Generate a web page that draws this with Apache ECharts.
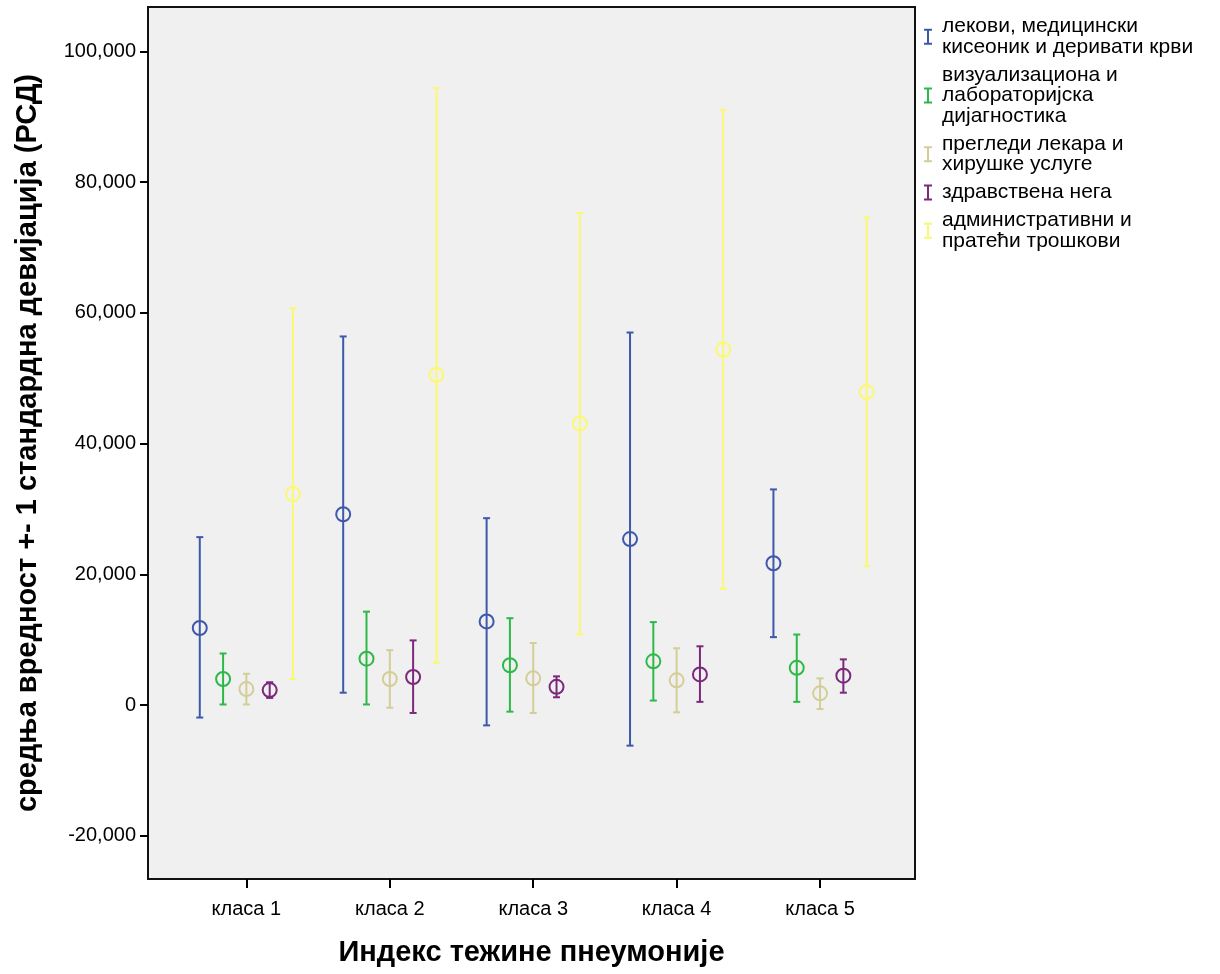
<!DOCTYPE html>
<html>
<head>
<meta charset="utf-8">
<title>Индекс тежине пнеумоније</title>
<script src="https://cdn.jsdelivr.net/npm/echarts@6/dist/echarts.min.js"></script>
<style>
  html, body {
    margin: 0;
    padding: 0;
    background: #fff;
  }

  #chart {
    width: 1220px;
    height: 974px;
  }
</style>
</head>
<body>
<div id="chart"></div>
<script>
// класе индекса тежине пнеумоније
let categories = ['класа 1', 'класа 2', 'класа 3', 'класа 4', 'класа 5']
let yTicks = [-20000, 0, 20000, 40000, 60000, 80000, 100000]

// средња вредност и +- 1 SD, по класи
let lekoviMean = [11800, 29200, 12800, 25400, 21700]
let lekoviLow = [-1900, 1900, -3100, -6200, 10400]
let lekoviHigh = [25700, 56400, 28600, 57000, 33000]

let dijagMean = [4000, 7100, 6100, 6700, 5700]
let dijagLow = [100, 100, -1000, 700, 500]
let dijagHigh = [7900, 14300, 13300, 12700, 10800]

let pregledMean = [2450, 4000, 4100, 3800, 1800]
let pregledLow = [100, -400, -1200, -1100, -600]
let pregledHigh = [4800, 8400, 9500, 8700, 4100]

let negaMean = [2300, 4300, 2800, 4700, 4500]
let negaLow = [1100, -1200, 1200, 500, 1900]
let negaHigh = [3500, 9900, 4400, 9000, 7000]

let adminMean = [32300, 50500, 43100, 54400, 47900]
let adminLow = [4000, 6500, 10800, 17800, 21300]
let adminHigh = [60700, 94400, 75300, 91100, 74600]

let seriesDefs = [
  { name: 'лекови, медицински\nкисеоник и деривати крви', color: '#3e58ac', mean: lekoviMean, low: lekoviLow, high: lekoviHigh },
  { name: 'визуализациона и\nлабораторијска\nдијагностика', color: '#2eb848', mean: dijagMean, low: dijagLow, high: dijagHigh },
  { name: 'прегледи лекара и\nхирушке услуге', color: '#d3ce97', mean: pregledMean, low: pregledLow, high: pregledHigh },
  { name: 'здравствена нега', color: '#7c287d', mean: negaMean, low: negaLow, high: negaHigh },
  { name: 'административни и\nпратећи трошкови', color: '#fbf873', mean: adminMean, low: adminLow, high: adminHigh }
]

// помак сваке серије унутар класе (у јединицама категорије)
let offsets = [-0.325, -0.1625, 0, 0.1625, 0.325]

let font = '"Liberation Sans", Arial, sans-serif'
let iBeam = 'path://M0,0 H8 V2 H5 V14 H8 V16 H0 V14 H3 V2 H0 Z'

function errorBar (offset) {
  return (params, api) => {
    let x = api.value(0) + offset
    let low = api.coord([x, api.value(1)])
    let mid = api.coord([x, api.value(2)])
    let high = api.coord([x, api.value(3)])
    let color = api.visual('color')
    let cap = 3.5
    let line = { stroke: color, lineWidth: 2 }
    return {
      type: 'group',
      children: [
        { type: 'line', shape: { x1: low[0], y1: low[1], x2: high[0], y2: high[1] }, style: line },
        { type: 'line', shape: { x1: low[0] - cap, y1: low[1], x2: low[0] + cap, y2: low[1] }, style: line },
        { type: 'line', shape: { x1: high[0] - cap, y1: high[1], x2: high[0] + cap, y2: high[1] }, style: line },
        { type: 'circle', shape: { cx: mid[0], cy: mid[1], r: 7 }, style: { stroke: color, fill: 'none', lineWidth: 2 } }
      ]
    }
  }
}

let myChart = echarts.init(document.getElementById('chart'))
myChart.setOption({
  animation: false,
  textStyle: { fontFamily: font },
  grid: {
    left: 148,
    top: 7,
    right: 305,
    bottom: 95,
    show: true,
    backgroundColor: '#f0f0f0',
    borderColor: '#111',
    borderWidth: 2
  },
  legend: {
    orient: 'vertical',
    left: 919,
    top: 11,
    itemGap: 7,
    itemWidth: 8,
    itemHeight: 16,
    icon: iBeam,
    textStyle: {
      fontSize: 21,
      lineHeight: 20.5,
      color: '#000',
      padding: [0, 0, 0, 5]
    },
    data: seriesDefs.map(s => s.name)
  },
  xAxis: {
    type: 'value',
    min: -0.686,
    max: 4.662,
    name: 'Индекс тежине пнеумоније',
    nameLocation: 'middle',
    nameGap: 59,
    nameTextStyle: { fontSize: 29, fontWeight: 'bold', color: '#000' },
    axisLine: { show: false, onZero: false },
    splitLine: { show: false },
    axisTick: {
      customValues: [0, 1, 2, 3, 4],
      length: 9,
      lineStyle: { color: '#000', width: 2 }
    },
    axisLabel: {
      customValues: [0, 1, 2, 3, 4],
      formatter: v => categories[Math.round(v)],
      fontSize: 20,
      color: '#000',
      margin: 20
    }
  },
  yAxis: {
    type: 'value',
    min: -26600,
    max: 106800,
    name: 'средња вредност +- 1 стандардна девијација (РСД)',
    nameLocation: 'middle',
    nameGap: 106,
    nameTextStyle: { fontSize: 29, fontWeight: 'bold', color: '#000' },
    axisLine: { show: false, onZero: false },
    splitLine: { show: false },
    axisTick: {
      show: true,
      customValues: yTicks,
      length: 8,
      lineStyle: { color: '#000', width: 2 }
    },
    axisLabel: {
      customValues: yTicks,
      formatter: v => v.toLocaleString('en-US'),
      fontSize: 20,
      color: '#000',
      margin: 12
    }
  },
  series: seriesDefs.map((s, i) => ({
    type: 'custom',
    name: s.name,
    itemStyle: { color: s.color },
    renderItem: errorBar(offsets[i]),
    encode: { x: 0, y: [1, 2, 3] },
    data: categories.map((c, k) => [k, s.low[k], s.mean[k], s.high[k]])
  }))
})
</script>
</body>
</html>
